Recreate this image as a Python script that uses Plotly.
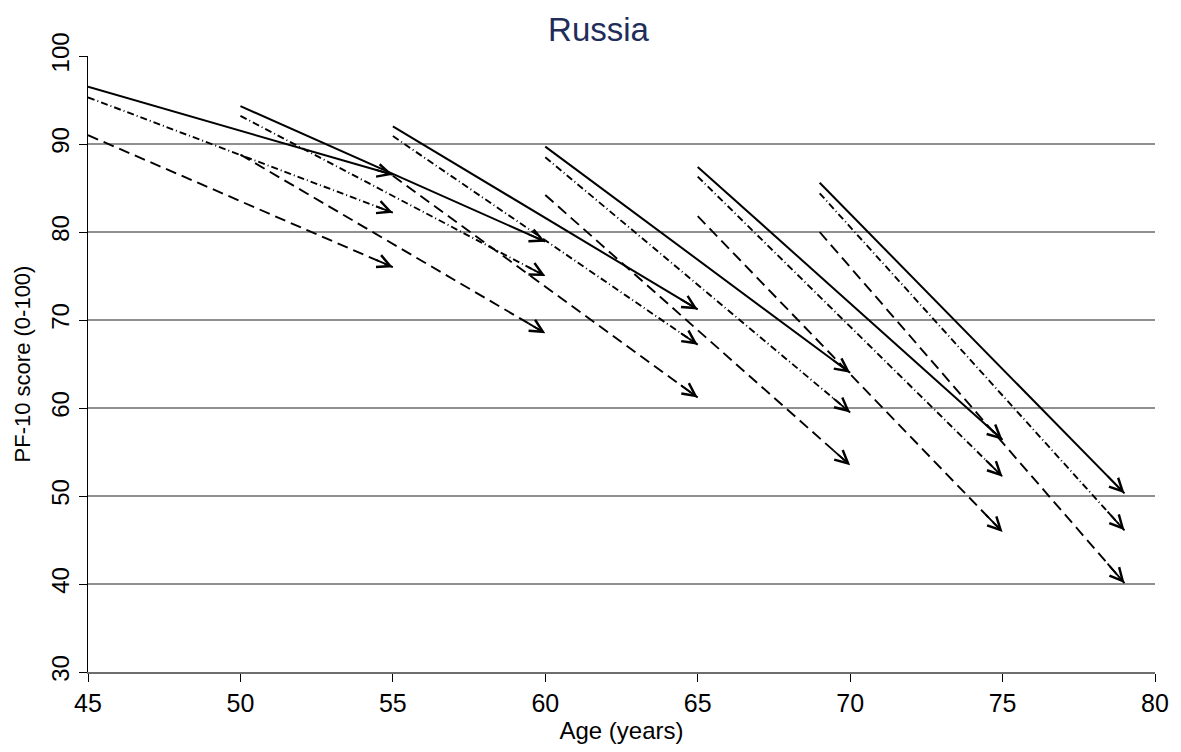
import plotly.graph_objects as go

# Data
start_age = [45, 50, 55, 60, 65, 69]
end_age = [55, 60, 65, 70, 75, 79]

solid_start = [96.5, 94.3, 92.0, 89.7, 87.4, 85.6]
solid_end = [86.5, 78.9, 71.2, 64.0, 56.4, 50.3]

dashdot_start = [95.3, 93.2, 90.9, 88.5, 86.3, 84.4]
dashdot_end = [82.2, 75.0, 67.2, 59.5, 52.2, 46.1]

dashed_start = [91.0, 88.8, 86.4, 84.2, 81.8, 80.0]
dashed_end = [76.0, 68.5, 61.2, 53.5, 45.9, 40.1]

x_ticks = [45, 50, 55, 60, 65, 70, 75, 80]
y_ticks = [30, 40, 50, 60, 70, 80, 90, 100]

series = [
    (solid_start, solid_end, "solid", 2.0),
    (dashdot_start, dashdot_end, "7px,3px,1px,3px", 1.9),
    (dashed_start, dashed_end, "11px,6px", 1.9),
]

FONT = "Liberation Sans, Arial, sans-serif"

fig = go.Figure()
for ys, ye, dash, w in series:
    for i in range(len(start_age)):
        fig.add_trace(go.Scatter(
            x=[start_age[i], end_age[i]],
            y=[ys[i], ye[i]],
            mode="lines",
            line=dict(color="black", width=w, dash=dash),
            showlegend=False,
            hoverinfo="skip",
        ))
        # arrowhead at the end of the segment, oriented along the segment
        frac = 0.06
        fig.add_annotation(
            x=end_age[i], y=ye[i],
            ax=end_age[i] - frac * (end_age[i] - start_age[i]),
            ay=ye[i] - frac * (ye[i] - ys[i]),
            xref="x", yref="y", axref="x", ayref="y",
            text="", showarrow=True,
            arrowhead=5, arrowsize=1.4, arrowwidth=1.8, arrowcolor="black",
            standoff=0, startstandoff=0,
        )

fig.update_layout(
    width=1181, height=752,
    margin=dict(l=80, r=34, t=48, b=88, autoexpand=False),
    paper_bgcolor="white", plot_bgcolor="white",
    font=dict(family=FONT, color="black"),
    title=dict(text="Russia", x=0.5, xanchor="center", y=0.972, yanchor="middle",
               font=dict(size=33, color="#1f2d5a", family=FONT)),
    xaxis=dict(
        range=[45, 80], tickvals=x_ticks, ticktext=[str(v) for v in x_ticks],
        showgrid=False, zeroline=False, automargin=False,
        showline=True, linecolor="#6e6e6e", linewidth=2,
        ticks="outside", ticklen=8, tickcolor="black", tickwidth=1,
        tickfont=dict(size=25),
        title=dict(text="Age (years)", font=dict(size=24), standoff=6),
    ),
    yaxis=dict(
        range=[30, 100], tickvals=y_ticks, ticktext=[str(v) for v in y_ticks],
        showgrid=True, gridcolor="#8f8f8f", gridwidth=2,
        zeroline=False, automargin=False,
        showline=True, linecolor="black", linewidth=1,
        ticks="outside", ticklen=8, tickcolor="black", tickwidth=1,
        tickangle=-90, tickfont=dict(size=24),
        title=dict(text="PF-10 score (0-100)", font=dict(size=22), standoff=10),
    ),
)

fig.write_html("out.html")
